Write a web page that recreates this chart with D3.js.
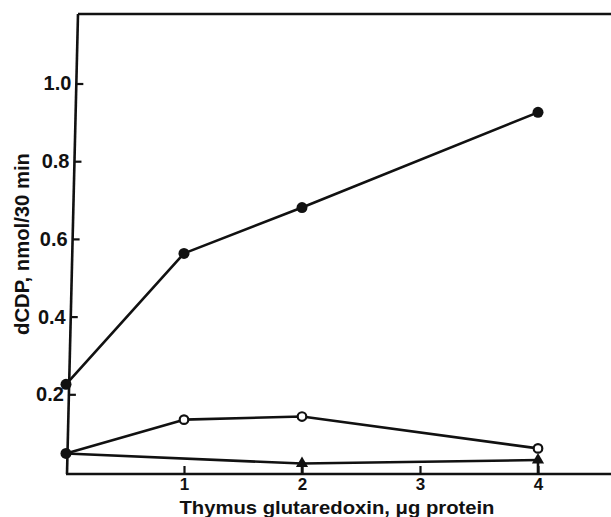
<!DOCTYPE html>
<html><head><meta charset="utf-8">
<script src="https://cdn.jsdelivr.net/npm/d3@7"></script>
<style>body{margin:0;background:#fff;} text{font-family:"Liberation Sans",Arial,sans-serif;font-weight:bold;fill:#111;}</style>
</head><body>
<svg id="c" width="611" height="517"></svg>
<script>
// Data
const xTicks = [1, 2, 3, 4];
const yTicks = [0.2, 0.4, 0.6, 0.8, 1.0];
const filledX = [0, 1, 2, 4];
const filledY = [0.227, 0.564, 0.682, 0.927];
const openX = [0, 1, 2, 4];
const openY = [0.049, 0.136, 0.144, 0.062];
const triX = [0, 2, 4];
const triY = [0.049, 0.023, 0.032];
const xTitle = "Thymus glutaredoxin, \u03bcg protein";
const yTitle = "dCDP, nmol/30 min";

const svg = d3.select("#c");
const x = d3.scaleLinear().domain([0, 4]).range([66, 538]);
const y = d3.scaleLinear().domain([0, 1]).range([472.5, 84]);
const axisBottomY = 474;
const ink = "#111";

// slanted left axis (as in the scanned original)
const leftTop = [78, 14], leftBot = [67, axisBottomY];
const leftAt = yy => leftBot[0] + (leftTop[0] - leftBot[0]) * (leftBot[1] - yy) / (leftBot[1] - leftTop[1]);

svg.append("line").attr("x1", leftTop[0]).attr("y1", leftTop[1]).attr("x2", leftBot[0]).attr("y2", leftBot[1])
  .attr("stroke", ink).attr("stroke-width", 2.6);
svg.append("line").attr("x1", leftTop[0]).attr("y1", 14).attr("x2", 611).attr("y2", 14)
  .attr("stroke", ink).attr("stroke-width", 2.6);
svg.append("line").attr("x1", 66).attr("y1", axisBottomY).attr("x2", 611).attr("y2", axisBottomY)
  .attr("stroke", ink).attr("stroke-width", 2.6);

// x axis
const gx = svg.append("g").attr("transform", `translate(0,${axisBottomY})`)
  .call(d3.axisBottom(x).tickValues(xTicks).tickFormat(d3.format("d")).tickSize(-8).tickPadding(4));
gx.select(".domain").remove();
gx.attr("font-size", null);
gx.selectAll(".tick line").attr("stroke", ink).attr("stroke-width", 2.2);
gx.selectAll(".tick text").style("font-size", "17px").attr("fill", ink);

// y axis
const gy = svg.append("g")
  .call(d3.axisLeft(y).tickValues(yTicks).tickFormat(d3.format(".1f")).tickSize(0).tickPadding(5));
gy.select(".domain").remove();
gy.attr("font-size", null);
gy.selectAll(".tick").attr("transform", d => `translate(${leftAt(y(d))},${y(d)})`);
gy.selectAll(".tick line").attr("x2", 7).attr("stroke", ink).attr("stroke-width", 2.2);
gy.selectAll(".tick text").style("font-size", "20px").attr("fill", ink);

// titles
svg.append("text").attr("x", 337).attr("y", 514).attr("text-anchor", "middle")
  .attr("textLength", 315).attr("lengthAdjust", "spacingAndGlyphs")
  .style("font-size", "19px").text(xTitle);
svg.append("text").attr("transform", "translate(29,244) rotate(-90)").attr("text-anchor", "middle")
  .attr("textLength", 182).attr("lengthAdjust", "spacingAndGlyphs")
  .style("font-size", "20px").text(yTitle);

// lines
const line = d3.line().x(d => x(d[0])).y(d => y(d[1]));
const zip = (a, b) => a.map((v, i) => [v, b[i]]);
const filled = zip(filledX, filledY), open = zip(openX, openY), tri = zip(triX, triY);
[filled, open, tri].forEach(s => svg.append("path").attr("d", line(s)).attr("fill", "none")
  .attr("stroke", ink).attr("stroke-width", 2.6).attr("stroke-linejoin", "round"));

// triangle stems
svg.selectAll(".stem").data(tri.slice(1)).join("line")
  .attr("x1", d => x(d[0])).attr("x2", d => x(d[0])).attr("y1", d => y(d[1])).attr("y2", axisBottomY)
  .attr("stroke", ink).attr("stroke-width", 2.6);
svg.selectAll(".tri").data(tri.slice(1)).join("path")
  .attr("transform", d => `translate(${x(d[0])},${y(d[1])})`)
  .attr("d", d3.symbol(d3.symbolTriangle, 64)).attr("fill", ink);

// open circles (first point is the common filled control point)
svg.selectAll(".oc").data(open.slice(1)).join("circle")
  .attr("cx", d => x(d[0])).attr("cy", d => y(d[1])).attr("r", 4.3)
  .attr("fill", "#fff").attr("stroke", ink).attr("stroke-width", 2.2);
svg.selectAll(".fc").data(filled.concat([open[0]])).join("circle")
  .attr("cx", d => x(d[0])).attr("cy", d => y(d[1])).attr("r", 5.5).attr("fill", ink);
</script>
</body></html>
